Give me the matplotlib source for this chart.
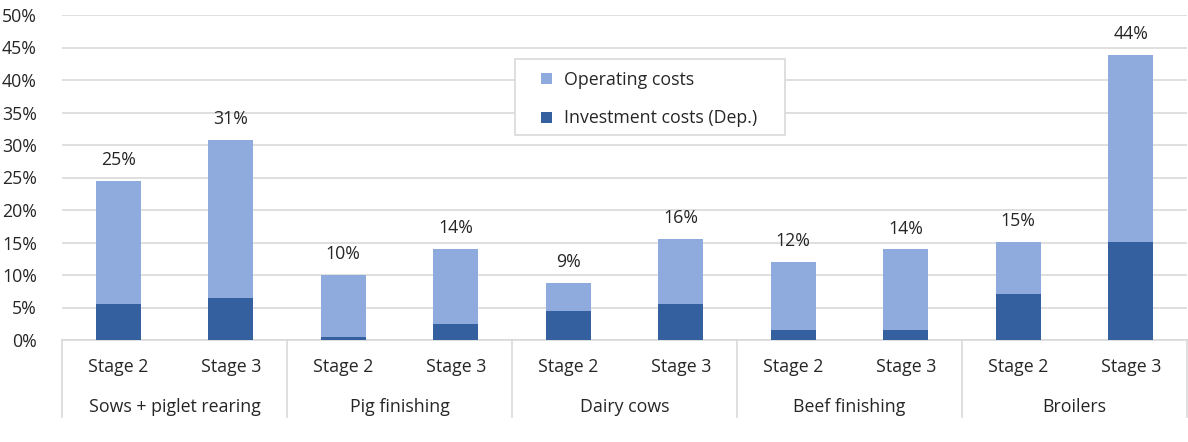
import matplotlib
matplotlib.use("Agg")
import matplotlib.pyplot as plt
import matplotlib.transforms as mtransforms
from matplotlib.patches import Rectangle
import numpy as np

plt.rcParams['font.family'] = ['Open Sans', 'DejaVu Sans']

groups = ["Sows + piglet rearing", "Pig finishing", "Dairy cows", "Beef finishing", "Broilers"]
stages = ["Stage 2", "Stage 3"]
investment = [5.6, 6.4, 0.4, 2.5, 4.5, 5.5, 1.5, 1.6, 7.1, 15.1]
total = [24.5, 30.8, 10.0, 14.0, 8.8, 15.6, 12.0, 13.95, 15.1, 43.9]
labels = ["25%", "31%", "10%", "14%", "9%", "16%", "12%", "14%", "15%", "44%"]
operating = [t - i for t, i in zip(total, investment)]

light = "#8FAADC"
dark = "#3560A0"
text_col = "#262626"
grid_col = "#D9D9D9"
fs = 12.8

W, H = 1188, 442
fig = plt.figure(figsize=(W / 100, H / 100), dpi=100)
ax = fig.add_axes([62 / W, 1 - 340 / H, (1187 - 62) / W, (340 - 15) / H])

x = np.arange(len(total))
ax.bar(x, investment, width=0.4, color=dark, label="Investment costs (Dep.)", zorder=3)
ax.bar(x, operating, width=0.4, bottom=investment, color=light, label="Operating costs", zorder=3)

for xi, t, lab in zip(x, total, labels):
    ax.text(xi, t + 1.8, lab, ha="center", va="bottom", fontsize=fs, color=text_col)

ax.set_xlim(-0.5, len(total) - 0.5)
ax.set_ylim(0, 50)
ax.set_yticks(np.arange(0, 51, 5))
ax.set_yticklabels([f"{v}%" for v in range(0, 51, 5)], fontsize=fs, color=text_col)
ax.yaxis.grid(True, color=grid_col, linewidth=1.2, zorder=0)
ax.tick_params(axis="y", length=0, pad=18)
ax.tick_params(axis="x", length=0)
ax.set_xticks([])
for s in ["top", "right", "left"]:
    ax.spines[s].set_visible(False)
ax.spines["bottom"].set_color(grid_col)
ax.spines["bottom"].set_linewidth(1.2)

trans = mtransforms.blended_transform_factory(ax.transData, ax.transAxes)
axh_px = 340 - 15
def ypos(px_below):
    return -px_below / axh_px

for xi in x:
    ax.text(xi, ypos(27), stages[xi % 2], transform=trans, ha="center", va="center",
            fontsize=fs, color=text_col)
for gi, g in enumerate(groups):
    ax.text(2 * gi + 0.5, ypos(67), g, transform=trans, ha="center", va="center",
            fontsize=fs, color=text_col)
for sep in np.arange(-0.5, len(total), 2):
    ax.plot([sep, sep], [0, ypos(77)], transform=trans, color=grid_col, linewidth=1.2,
            clip_on=False)

# legend box
box = Rectangle((515 / W, 1 - 135 / H), (785 - 515) / W, (135 - 59) / H,
                transform=fig.transFigure, facecolor="white", edgecolor=grid_col,
                linewidth=1.2, zorder=4)
fig.patches.append(box)

handles, labs = ax.get_legend_handles_labels()
leg = fig.legend(handles[::-1], labs[::-1], loc="upper left",
                 bbox_to_anchor=(541 / W, 1 - 71 / H), frameon=False, fontsize=fs,
                 handlelength=0.6, handleheight=0.6, labelspacing=1.15, borderpad=0,
                 handletextpad=0.7, borderaxespad=0)
leg.set_zorder(5)
for t in leg.get_texts():
    t.set_color(text_col)

fig.savefig("out.png", dpi=100, facecolor="white")
